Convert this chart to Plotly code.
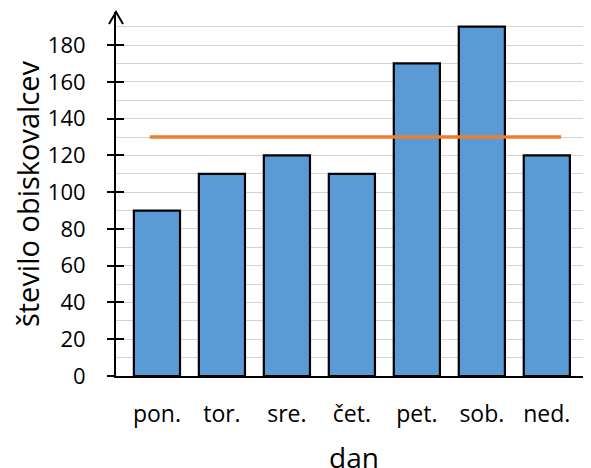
import plotly.graph_objects as go

days = ["pon.", "tor.", "sre.", "čet.", "pet.", "sob.", "ned."]
visitors = [90, 110, 120, 110, 170, 190, 120]
average_value = 130
avg_line_x = [-0.11, 6.22]

x_pos = list(range(len(days)))
FONT = "Open Sans"

fig = go.Figure()
fig.add_trace(go.Bar(
    x=x_pos, y=visitors, width=0.71,
    marker=dict(color="#5B9BD5", line=dict(color="black", width=2.2)),
    showlegend=False, hoverinfo="skip",
))
fig.add_trace(go.Scatter(
    x=avg_line_x, y=[average_value, average_value], mode="lines",
    line=dict(color="#ED7D31", width=3.5), showlegend=False, hoverinfo="skip",
))
fig.add_trace(go.Scatter(x=[None], y=[None], yaxis="y2", showlegend=False))

yrange = [0, 198]
fig.update_layout(
    width=583, height=460,
    margin=dict(l=108, r=0, t=4, b=92),
    plot_bgcolor="white", paper_bgcolor="white",
    font=dict(family=FONT, color="black"),
    xaxis=dict(
        range=[-0.63, 6.68], tickvals=x_pos, ticktext=days, automargin=False,
        showgrid=False, zeroline=False, showline=True, linecolor="black", linewidth=2,
        ticks="", tickfont=dict(size=23, family=FONT), ticklabelstandoff=16,
    ),
    yaxis=dict(
        range=yrange, dtick=20, tick0=0, automargin=False,
        showgrid=True, gridcolor="#D4D4D4", gridwidth=1,
        minor=dict(dtick=10, showgrid=True, gridcolor="#D4D4D4", gridwidth=1),
        zeroline=False, showline=True, linecolor="black", linewidth=2,
        ticks="outside", ticklen=7, tickwidth=2, tickcolor="black",
        tickfont=dict(size=22, family=FONT), ticklabelstandoff=17,
        title=dict(text="število obiskovalcev", font=dict(size=29, family=FONT), standoff=16),
    ),
    yaxis2=dict(
        range=yrange, dtick=20, tick0=0, overlaying="y", side="left",
        showgrid=False, zeroline=False, showline=False, automargin=False,
        ticks="inside", ticklen=8, tickwidth=2, tickcolor="black",
        showticklabels=False,
    ),
)
fig.add_annotation(
    text="dan", xref="paper", yref="paper", x=0.5, y=0,
    xanchor="center", yanchor="middle", yshift=-81, showarrow=False,
    font=dict(size=28, family=FONT, color="black"),
)
fig.add_shape(
    type="path", xref="paper", yref="paper",
    xsizemode="pixel", ysizemode="pixel", xanchor=0, yanchor=1,
    path="M -7,-12 L 0,0 L 7,-12",
    line=dict(color="black", width=2),
)
fig.write_html("out.html")
